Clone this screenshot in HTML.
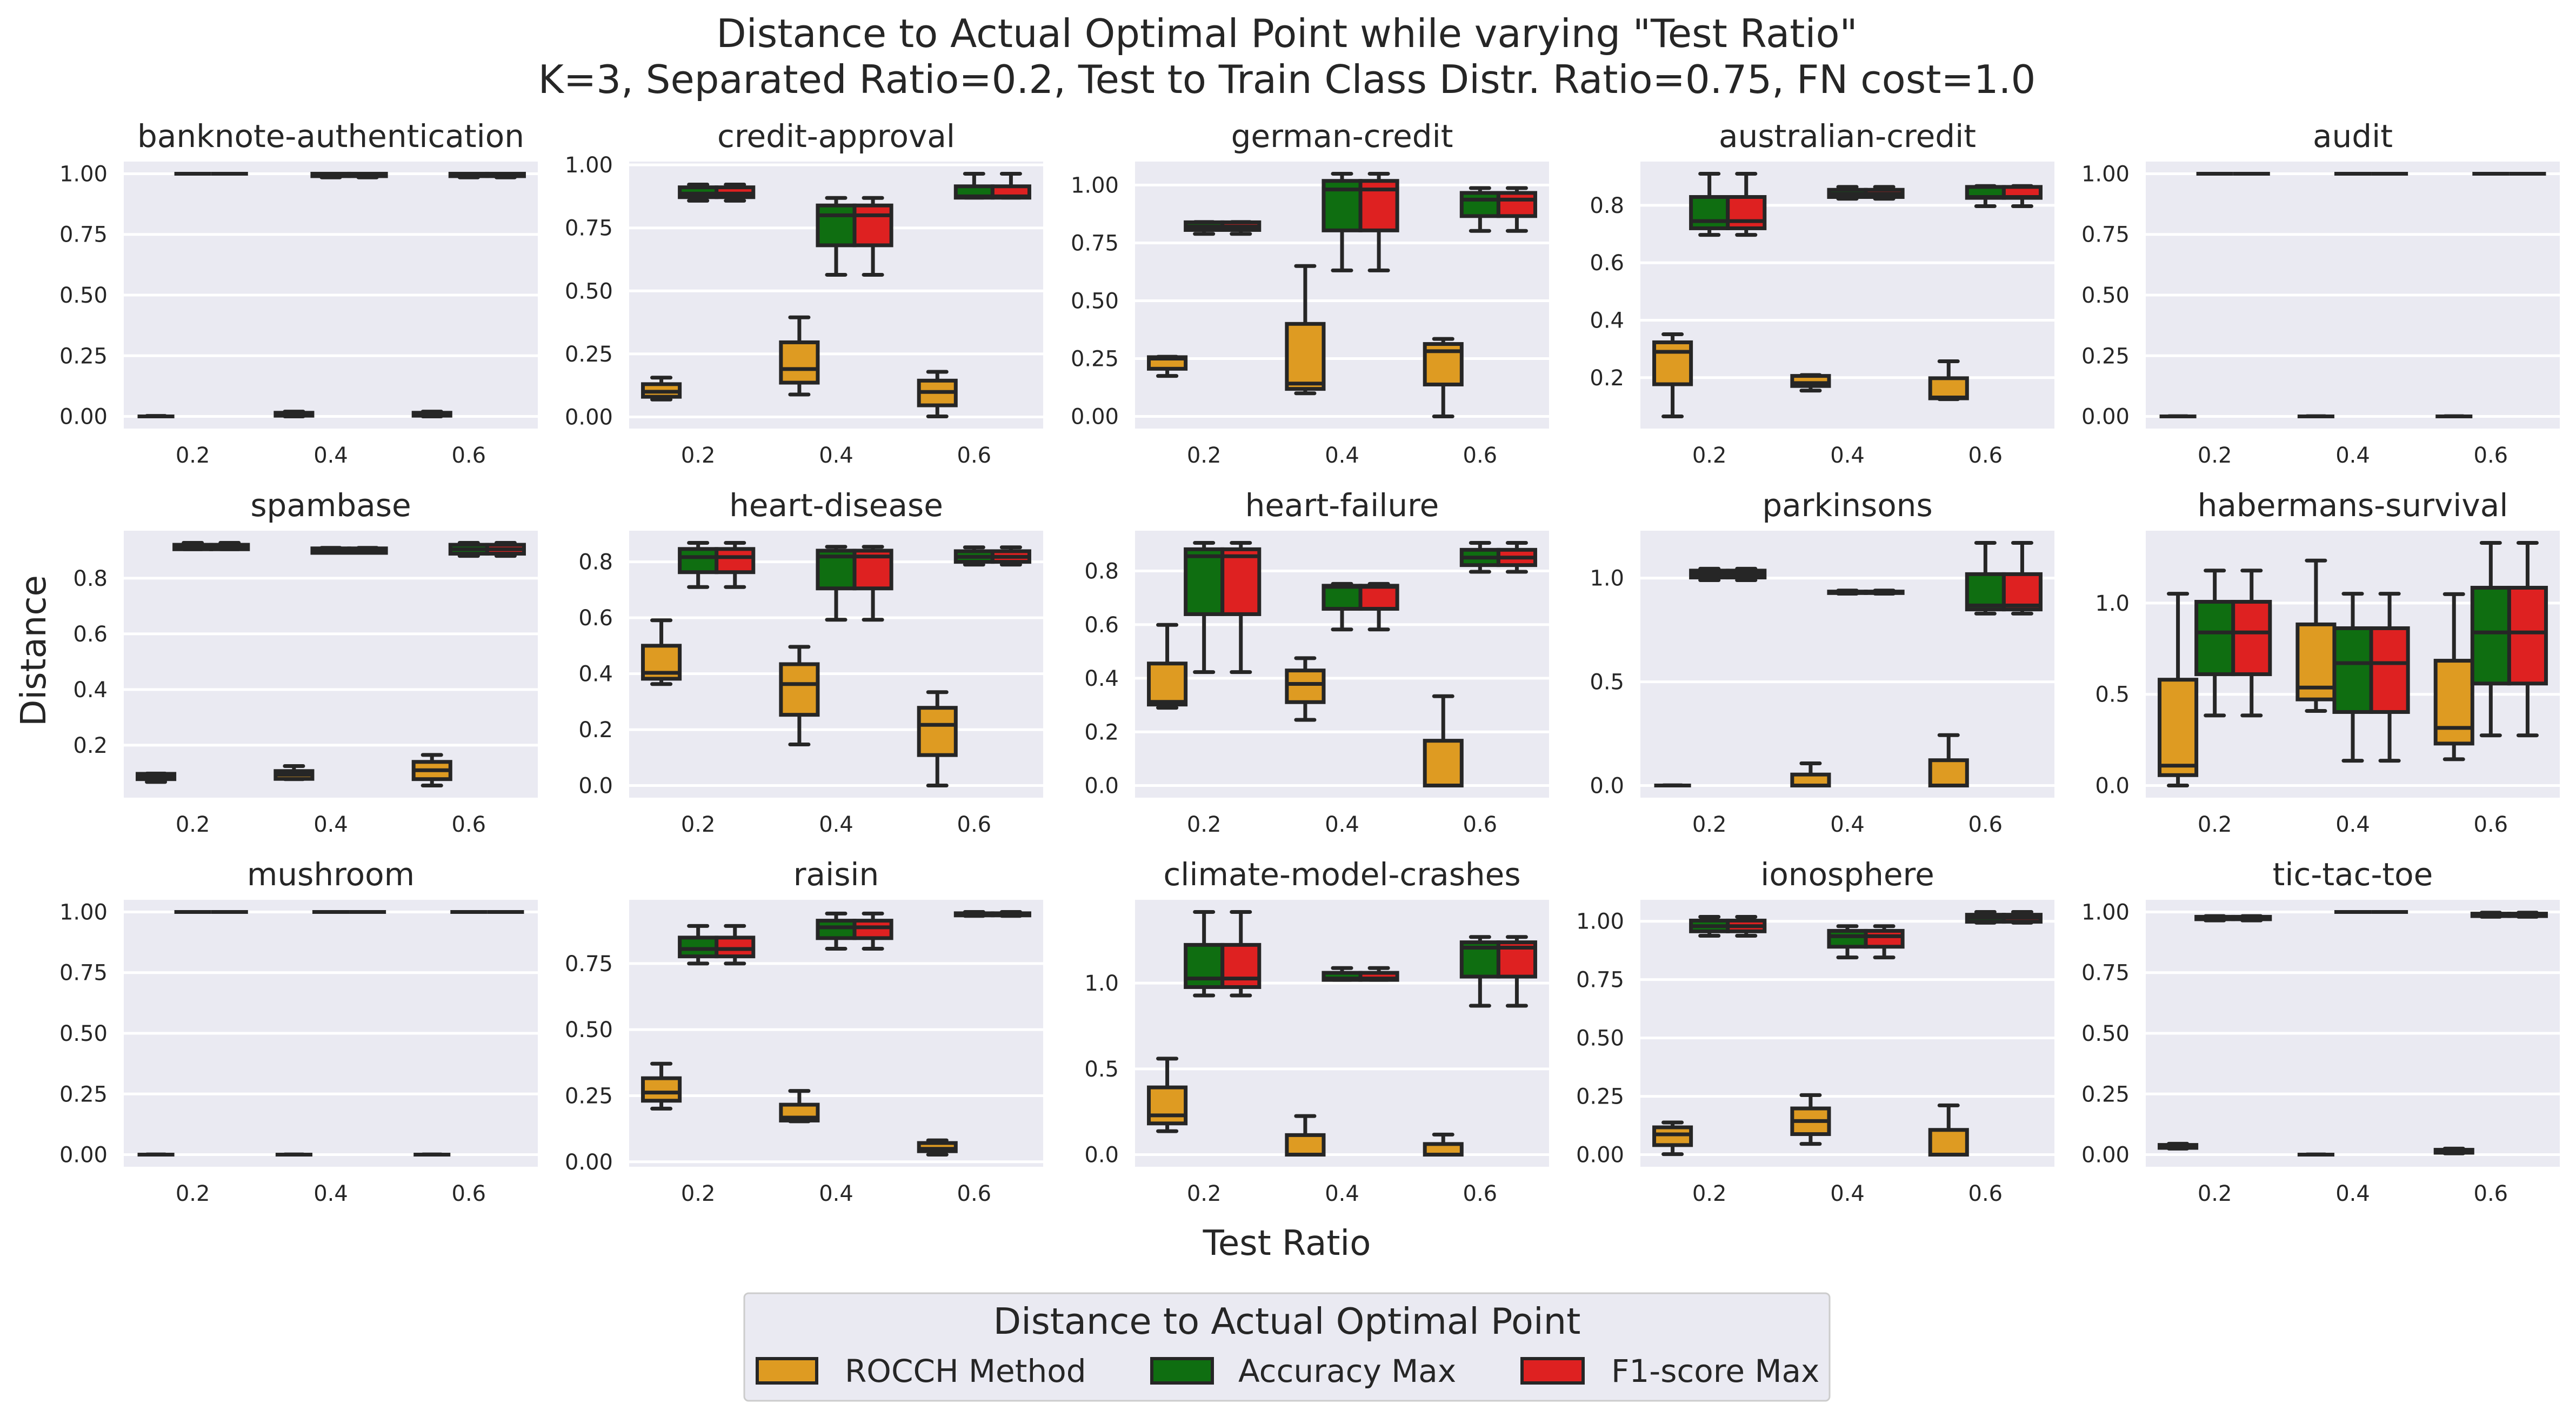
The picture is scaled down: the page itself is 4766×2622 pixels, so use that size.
<!DOCTYPE html>
<html><head><meta charset="utf-8">
<style>
html,body{margin:0;padding:0;background:#fff;}
svg{display:block;font-family:"DejaVu Sans","Liberation Sans",sans-serif;}
</style></head>
<body>
<svg id="fig" width="4766" height="2622" viewBox="0 0 4766 2622" xmlns="http://www.w3.org/2000/svg">
<text x="2381" y="87" font-size="72" text-anchor="middle" fill="#262626">Distance to Actual Optimal Point while varying "Test Ratio"</text>
<text x="2381" y="172" font-size="72" text-anchor="middle" fill="#262626">K=3, Separated Ratio=0.2, Test to Train Class Distr. Ratio=0.75, FN cost=1.0</text>
<text x="0" y="0" font-size="64" text-anchor="middle" fill="#262626" transform="translate(84,1204) rotate(-90)">Distance</text>
<text x="2381" y="2322" font-size="64" text-anchor="middle" fill="#262626">Test Ratio</text>
<g id="panels"></g>
<g>
<rect x="1377" y="2393" width="2008" height="199" rx="8" fill="#EAEAF2" stroke="#cccccc" stroke-width="3"/>
<text x="2381" y="2468" font-size="67" text-anchor="middle" fill="#262626">Distance to Actual Optimal Point</text>
<g><rect x="1401" y="2514" width="110" height="45" fill="#DE9B22" stroke="#262626" stroke-width="6"/><text x="1563" y="2557" font-size="58" fill="#262626">ROCCH Method</text></g>
<g><rect x="2131" y="2514" width="112" height="45" fill="#0F6E11" stroke="#262626" stroke-width="6"/><text x="2291" y="2557" font-size="58" fill="#262626">Accuracy Max</text></g>
<g><rect x="2816" y="2514" width="113" height="45" fill="#DE2121" stroke="#262626" stroke-width="6"/><text x="2981" y="2557" font-size="58" fill="#262626">F1-score Max</text></g>
</g>
</svg>
<script>
const datasets = ["banknote-authentication","credit-approval","german-credit","australian-credit","audit","spambase","heart-disease","heart-failure","parkinsons","habermans-survival","mushroom","raisin","climate-model-crashes","ionosphere","tic-tac-toe"];
const categories = ["0.2","0.4","0.6"];
// each box: [whiskerLow, q1, median, q3, whiskerHigh]
const rocchData = [
 [[0,0,0,0,0.002],[0,0.003,0.01,0.015,0.02],[0,0.003,0.01,0.015,0.02]],
 [[0.069,0.08,0.1,0.13,0.156],[0.089,0.136,0.19,0.296,0.395],[0.002,0.046,0.099,0.144,0.179]],
 [[0.175,0.206,0.25,0.256,0.258],[0.1,0.119,0.142,0.4,0.65],[0.0,0.138,0.282,0.313,0.335]],
 [[0.065,0.177,0.29,0.323,0.351],[0.155,0.171,0.181,0.206,0.209],[0.125,0.128,0.131,0.198,0.257]],
 [[0,0,0,0,0.001],[0,0,0,0,0.001],[0,0,0,0,0.001]],
 [[0.068,0.078,0.086,0.097,0.098],[0.078,0.079,0.094,0.107,0.125],[0.055,0.078,0.11,0.14,0.165]],
 [[0.363,0.382,0.403,0.5,0.591],[0.147,0.253,0.363,0.434,0.496],[0.0,0.109,0.217,0.278,0.334]],
 [[0.29,0.302,0.312,0.455,0.599],[0.245,0.311,0.379,0.429,0.475],[0.0,0.0,0.0,0.167,0.333]],
 [[0,0,0,0,0.001],[0,0,0,0.053,0.107],[0,0,0,0.122,0.243]],
 [[0.0,0.057,0.109,0.58,1.051],[0.409,0.472,0.537,0.883,1.233],[0.144,0.23,0.316,0.684,1.049]],
 [[0,0,0,0,0.001],[0,0,0,0,0.001],[0,0,0,0,0.001]],
 [[0.201,0.231,0.262,0.316,0.371],[0.153,0.156,0.167,0.216,0.268],[0.027,0.04,0.049,0.071,0.081]],
 [[0.137,0.182,0.229,0.392,0.56],[0,0,0,0.114,0.225],[0,0,0,0.062,0.117]],
 [[0.002,0.041,0.087,0.117,0.138],[0.046,0.088,0.144,0.198,0.255],[0,0,0,0.106,0.211]],
 [[0.025,0.028,0.033,0.04,0.045],[0,0,0,0,0.001],[0.005,0.008,0.013,0.02,0.025]]
];
const accData = [
 [[1,1,1,1,1],[0.985,0.99,0.995,1.0,1.0],[0.985,0.99,0.995,1.0,1.0]],
 [[0.858,0.872,0.886,0.911,0.922],[0.564,0.681,0.8,0.839,0.869],[0.87,0.87,0.875,0.915,0.965]],
 [[0.789,0.806,0.821,0.839,0.84],[0.631,0.804,0.981,1.018,1.049],[0.802,0.866,0.937,0.966,0.987]],
 [[0.697,0.72,0.745,0.829,0.91],[0.823,0.829,0.84,0.854,0.864],[0.797,0.826,0.829,0.864,0.867]],
 [[1,1,1,1,1],[1,1,1,1,1],[1,1,1,1,1]],
 [[0.904,0.904,0.912,0.92,0.927],[0.891,0.891,0.9,0.907,0.909],[0.88,0.888,0.904,0.92,0.927]],
 [[0.71,0.763,0.817,0.846,0.868],[0.593,0.705,0.819,0.84,0.854],[0.79,0.8,0.818,0.838,0.852]],
 [[0.423,0.639,0.855,0.881,0.905],[0.582,0.659,0.741,0.745,0.752],[0.797,0.822,0.85,0.879,0.905]],
 [[0.99,1.003,1.019,1.036,1.045],[0.925,0.928,0.93,0.935,0.94],[0.829,0.849,0.868,1.019,1.17]],
 [[0.384,0.61,0.839,1.007,1.178],[0.136,0.403,0.671,0.862,1.051],[0.275,0.559,0.839,1.084,1.33]],
 [[1,1,1,1,1],[1,1,1,1,1],[1,1,1,1,1]],
 [[0.75,0.777,0.805,0.848,0.892],[0.806,0.846,0.887,0.912,0.939],[0.93,0.932,0.935,0.94,0.945]],
 [[0.928,0.977,1.027,1.223,1.415],[1.019,1.019,1.027,1.06,1.088],[0.868,1.038,1.207,1.238,1.269]],
 [[0.938,0.957,0.979,1.003,1.019],[0.845,0.891,0.936,0.959,0.979],[0.994,0.998,1.015,1.028,1.04]],
 [[0.965,0.97,0.975,0.98,0.983],[1,1,1,1,1],[0.98,0.983,0.987,0.993,0.997]]
];
const f1Data = [
 [[1,1,1,1,1],[0.985,0.99,0.995,1.0,1.0],[0.985,0.99,0.995,1.0,1.0]],
 [[0.858,0.872,0.886,0.911,0.922],[0.564,0.681,0.8,0.839,0.869],[0.87,0.87,0.875,0.915,0.965]],
 [[0.789,0.806,0.821,0.839,0.84],[0.631,0.804,0.981,1.018,1.049],[0.802,0.866,0.937,0.966,0.987]],
 [[0.697,0.72,0.745,0.829,0.91],[0.823,0.829,0.84,0.854,0.864],[0.797,0.826,0.829,0.864,0.867]],
 [[1,1,1,1,1],[1,1,1,1,1],[1,1,1,1,1]],
 [[0.904,0.904,0.912,0.92,0.927],[0.891,0.891,0.9,0.907,0.909],[0.88,0.888,0.904,0.92,0.927]],
 [[0.71,0.763,0.817,0.846,0.868],[0.593,0.705,0.819,0.84,0.854],[0.79,0.8,0.818,0.838,0.852]],
 [[0.423,0.639,0.855,0.881,0.905],[0.582,0.659,0.741,0.745,0.752],[0.797,0.822,0.85,0.879,0.905]],
 [[0.99,1.003,1.019,1.036,1.045],[0.925,0.928,0.93,0.935,0.94],[0.829,0.849,0.868,1.019,1.17]],
 [[0.384,0.61,0.839,1.007,1.178],[0.136,0.403,0.671,0.862,1.051],[0.275,0.559,0.839,1.084,1.33]],
 [[1,1,1,1,1],[1,1,1,1,1],[1,1,1,1,1]],
 [[0.75,0.777,0.805,0.848,0.892],[0.806,0.846,0.887,0.912,0.939],[0.93,0.932,0.935,0.94,0.945]],
 [[0.928,0.977,1.027,1.223,1.415],[1.019,1.019,1.027,1.06,1.088],[0.868,1.038,1.207,1.238,1.269]],
 [[0.938,0.957,0.979,1.003,1.019],[0.845,0.891,0.936,0.959,0.979],[0.994,0.998,1.015,1.028,1.04]],
 [[0.965,0.97,0.975,0.98,0.983],[1,1,1,1,1],[0.98,0.983,0.987,0.993,0.997]]
];
const yTickValues = [
 [0,0.25,0.5,0.75,1],[0,0.25,0.5,0.75,1],[0,0.25,0.5,0.75,1],[0.2,0.4,0.6,0.8],[0,0.25,0.5,0.75,1],
 [0.2,0.4,0.6,0.8],[0,0.2,0.4,0.6,0.8],[0,0.2,0.4,0.6,0.8],[0,0.5,1.0],[0,0.5,1.0],
 [0,0.25,0.5,0.75,1],[0,0.25,0.5,0.75],[0,0.5,1.0],[0,0.25,0.5,0.75,1],[0,0.25,0.5,0.75,1]
];
const yTickDecimals = [2,2,2,1,2, 1,1,1,1,1, 2,2,1,2,2];
const seriesNames = ["rocch","accuracy","f1"];
const seriesColors = ["#DE9B22","#0F6E11","#DE2121"];

const NS = "http://www.w3.org/2000/svg";
const colLeft = [229,1164,2100,3035,3970];
const rowTop = [299,982,1665];
const AW = 766, AH = 494;
const EDGE = "#262626", LW = 7;
const root = document.getElementById("panels");
function mk(tag, attrs, parent){
  const e = document.createElementNS(NS, tag);
  for (const k in attrs) e.setAttribute(k, attrs[k]);
  parent.appendChild(e);
  return e;
}
datasets.forEach((name, p) => {
  const L = colLeft[p % 5], T = rowTop[Math.floor(p / 5)];
  const series = [rocchData[p], accData[p], f1Data[p]];
  let lo = Infinity, hi = -Infinity;
  series.forEach(s => s.forEach(b => { lo = Math.min(lo, b[0]); hi = Math.max(hi, b[4]); }));
  const r = hi - lo;
  const y0 = lo - 0.05 * r, y1 = hi + 0.05 * r;
  const yScale = v => T + AH - (v - y0) / (y1 - y0) * AH;
  const catW = AW / categories.length;
  const xScale = i => L + (i + 0.5) * catW;

  const g = mk("g", {}, root);
  
  
  const bg = mk("rect", {x:L, y:T, width:AW, height:AH, fill:"#EAEAF2"}, g);
  
  
  const tt = mk("text", {x:L + AW/2, y:T - 27, "font-size":58, "text-anchor":"middle", fill:"#262626"}, g);
  tt.textContent = name;
  
  

  yTickValues[p].forEach(v => {
    if (v < y0 || v > y1) return;
    const y = yScale(v);
    const gl = mk("line", {x1:L, x2:L + AW, y1:y, y2:y, stroke:"#fff", "stroke-width":5}, g);
    
    
    const tl = mk("text", {x:L - 30, y:y + 14, "font-size":40, "text-anchor":"end", fill:"#262626"}, g);
    tl.textContent = v.toFixed(yTickDecimals[p]);
    
    
  });
  categories.forEach((c, i) => {
    const xl = mk("text", {x:xScale(i), y:T + AH + 63, "font-size":40, "text-anchor":"middle", fill:"#262626"}, g);
    xl.textContent = c;
    
    
  });
  const bw = catW * 0.8 / 3;
  series.forEach((s, k) => {
    s.forEach((b, i) => {
      const cx = xScale(i) + (k - 1) * bw;
      const bg2 = mk("g", {}, g);
      
      
      const yl = yScale(b[0]), yq1 = yScale(b[1]), ym = yScale(b[2]), yq3 = yScale(b[3]), yh = yScale(b[4]);
      mk("line", {x1:cx, x2:cx, y1:yq1, y2:yl, stroke:EDGE, "stroke-width":LW}, bg2);
      mk("line", {x1:cx, x2:cx, y1:yq3, y2:yh, stroke:EDGE, "stroke-width":LW}, bg2);
      mk("line", {x1:cx - bw/4, x2:cx + bw/4, y1:yl, y2:yl, stroke:EDGE, "stroke-width":LW, "stroke-linecap":"round"}, bg2);
      mk("line", {x1:cx - bw/4, x2:cx + bw/4, y1:yh, y2:yh, stroke:EDGE, "stroke-width":LW, "stroke-linecap":"round"}, bg2);
      mk("rect", {x:cx - bw/2, y:yq3, width:bw, height:Math.max(0, yq1 - yq3), fill:seriesColors[k], stroke:EDGE, "stroke-width":LW}, bg2);
      mk("line", {x1:cx - bw/2, x2:cx + bw/2, y1:ym, y2:ym, stroke:EDGE, "stroke-width":LW}, bg2);
    });
  });
});
</script>
</body></html>
